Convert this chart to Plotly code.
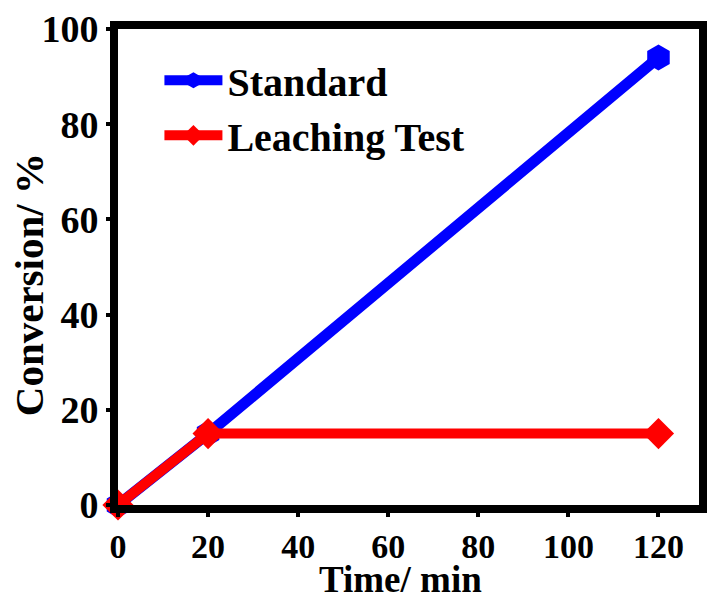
import plotly.graph_objects as go

time_min = [0, 20, 120]
standard = [0, 15, 94]
leaching = [0, 15, 15]
x_ticks = [0, 20, 40, 60, 80, 100, 120]
y_ticks = [0, 20, 40, 60, 80, 100]
x_title = "Time/ min"
y_title = "Conversion/ %"

FONT = "Liberation Serif, Times New Roman, serif"

fig = go.Figure()
fig.add_trace(go.Scatter(
    x=time_min, y=standard, name="<b>Standard</b>", mode="lines+markers",
    line=dict(color="#0000ff", width=11),
    marker=dict(symbol="hexagon", size=26, color="#0000ff"),
    cliponaxis=False,
))
fig.add_trace(go.Scatter(
    x=time_min, y=leaching, name="<b>Leaching Test</b>", mode="lines+markers",
    line=dict(color="#ff0000", width=10),
    marker=dict(symbol="diamond", size=24, color="#ff0000"),
    cliponaxis=False,
))

axis_common = dict(
    showline=True, linewidth=8, linecolor="black", mirror=True,
    ticks="outside", ticklen=4, tickwidth=4, tickcolor="black",
    showgrid=False, zeroline=False,
)

fig.update_xaxes(
    range=[0, 129], tickvals=x_ticks,
    ticktext=[f"<b>{v}</b>" for v in x_ticks],
    tickfont=dict(family=FONT, size=34, color="black"),
    **axis_common,
)
fig.update_yaxes(
    range=[0, 100], tickvals=y_ticks,
    ticktext=[f"<b>{v}</b>" for v in y_ticks],
    tickfont=dict(family=FONT, size=38, color="black"),
    **axis_common,
)

fig.add_annotation(
    text=f"<b>{x_title}</b>", xref="paper", yref="paper",
    x=0.486, y=-0.1555, xanchor="center", yanchor="middle", showarrow=False,
    font=dict(family=FONT, size=37, color="black"),
)
fig.add_annotation(
    text=f"<b>{y_title}</b>", xref="paper", yref="paper", textangle=-90,
    x=-0.1528, y=0.4622, xanchor="center", yanchor="middle", showarrow=False,
    font=dict(family=FONT, size=41, color="black"),
)

fig.update_layout(
    width=707, height=600,
    margin=dict(l=118, r=0, t=29, b=95),
    plot_bgcolor="white", paper_bgcolor="white",
    font=dict(family=FONT, color="black"),
    legend=dict(
        x=0.0713, y=0.9605, xanchor="left", yanchor="top",
        font=dict(family=FONT, size=40, color="black"),
        bgcolor="rgba(0,0,0,0)", tracegroupgap=0, itemwidth=58,
    ),
)

fig.write_html("out.html")
